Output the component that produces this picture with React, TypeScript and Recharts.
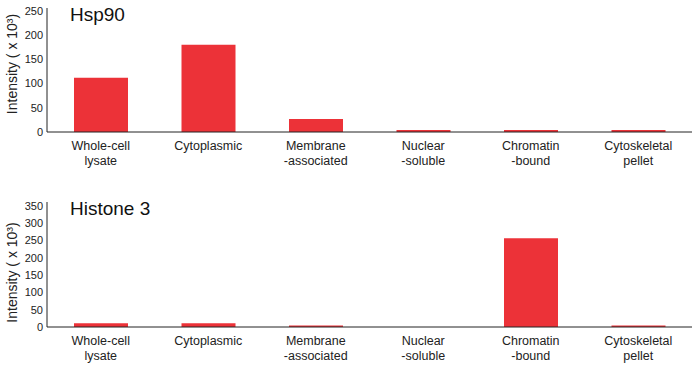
import { BarChart, Bar, XAxis, YAxis } from 'recharts'

const categories = [
  'Whole-cell\nlysate',
  'Cytoplasmic',
  'Membrane\n-associated',
  'Nuclear\n-soluble',
  'Chromatin\n-bound',
  'Cytoskeletal\npellet',
]
const hsp90Values = [112, 180, 27, 4, 4, 4]
const histone3Values = [11, 11, 4, 0, 256, 4]
const hsp90Ticks = [0, 50, 100, 150, 200, 250]
const histone3Ticks = [0, 50, 100, 150, 200, 250, 300, 350]

const RED = '#ec3238'
const FONT = '"Liberation Sans", Arial, Helvetica, sans-serif'

function CategoryTick(props: any) {
  const { x, y, payload } = props
  const lines = String(payload.value).split('\n')
  return (
    <text x={x} y={y} textAnchor="middle" fontSize={12.5} fill="#222" fontFamily={FONT}>
      {lines.map((line, i) => (
        <tspan key={i} x={x} dy={i === 0 ? 10 : 15}>
          {line}
        </tspan>
      ))}
    </text>
  )
}

type PanelProps = {
  title: string
  values: number[]
  ticks: number[]
  max: number
  top: number
  bottom: number
  labelDy: number
}

function Panel({ title, values, ticks, max, top, bottom, labelDy }: PanelProps) {
  const data = categories.map((name, i) => ({ name, value: values[i] }))
  return (
    <div style={{ position: 'relative', width: 700, height: 184 }}>
      <BarChart
        width={700}
        height={184}
        data={data}
        margin={{ top, right: 8, bottom: 0, left: 0 }}
        barCategoryGap={0}
      >
        <XAxis
          dataKey="name"
          interval={0}
          tick={<CategoryTick />}
          tickLine={false}
          axisLine={{ stroke: '#222' }}
          height={bottom}
        />
        <YAxis
          width={47}
          domain={[0, max]}
          ticks={ticks}
          interval={0}
          tickLine={false}
          tickSize={0}
          tickMargin={4}
          axisLine={{ stroke: '#222' }}
          tick={{ fontSize: 11, fill: '#222', fontFamily: FONT }}
          label={{
            value: 'Intensity ( x 10³)',
            angle: -90,
            position: 'center',
            dx: -11,
            dy: labelDy,
            style: { fontSize: 14, fill: '#222', fontFamily: FONT },
          }}
        />
        <Bar dataKey="value" fill={RED} barSize={54} isAnimationActive={false} />
      </BarChart>
      <div
        style={{
          position: 'absolute',
          left: 70,
          top: top - 3,
          fontFamily: FONT,
          fontSize: 19,
          lineHeight: 1,
          color: '#111',
        }}
      >
        {title}
      </div>
    </div>
  )
}

export default function App() {
  return (
    <div style={{ position: 'absolute', left: 0, top: 0, width: 700, height: 368, background: '#fff' }}>
      <Panel title="Hsp90" values={hsp90Values} ticks={hsp90Ticks} max={256} top={8} bottom={52} labelDy={-6} />
      <Panel title="Histone 3" values={histone3Values} ticks={histone3Ticks} max={361} top={18} bottom={41} labelDy={8} />
    </div>
  )
}
